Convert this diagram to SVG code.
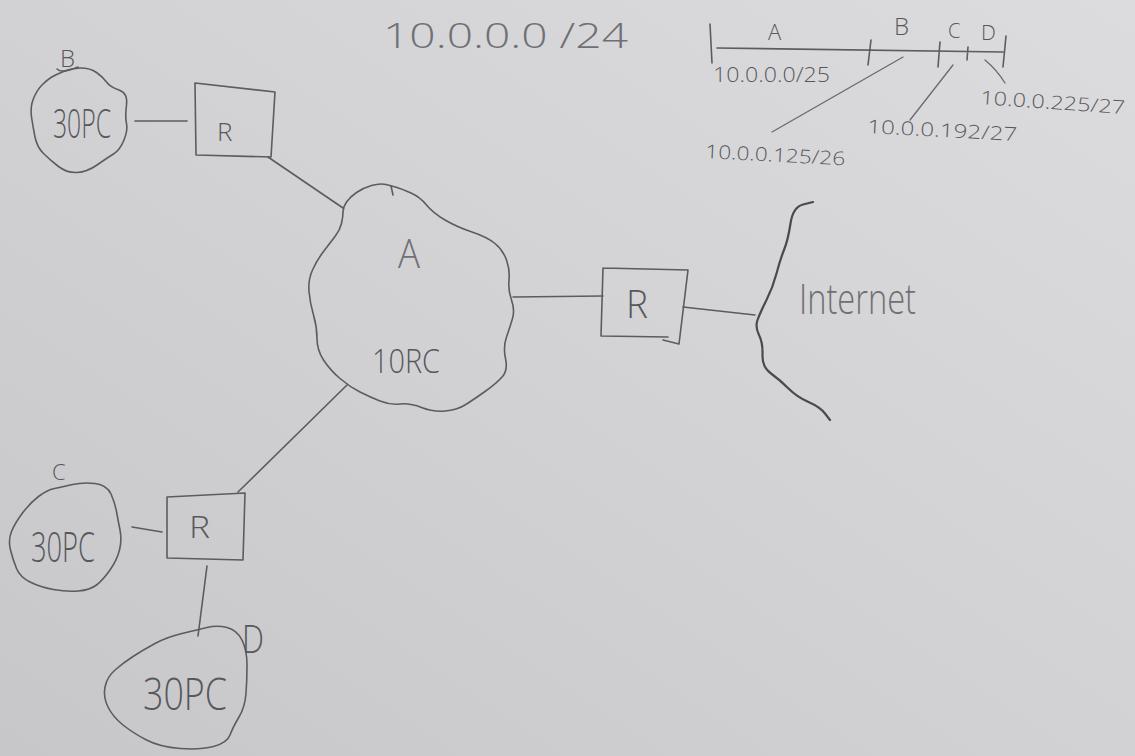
<svg xmlns="http://www.w3.org/2000/svg" width="1135" height="756" viewBox="0 0 1135 756">
  <defs>
    <linearGradient id="paper" x1="1" y1="0" x2="0" y2="1">
      <stop offset="0" stop-color="#dcdcdf"/>
      <stop offset="0.5" stop-color="#d2d2d5"/>
      <stop offset="1" stop-color="#c7c7ca"/>
    </linearGradient>
    <style>
      .pen { fill: none; stroke: #5c5c5f; stroke-width: 1.6; stroke-linecap: round; stroke-linejoin: round; }
      .bold { stroke: #4a4a4d; stroke-width: 2.2; }
      .lead { fill: none; stroke: #6a6a6d; stroke-width: 1.3; stroke-linecap: round; }
      .hand { font-family: "Open Sans", "DejaVu Sans", "Liberation Sans", sans-serif; font-weight: 300; fill: #58585b; }
      .faint { fill: #707074; }
    </style>
  </defs>

  <!-- sheet of paper -->
  <rect x="0" y="0" width="1135" height="756" fill="url(#paper)"/>

  <!-- address plan for 10.0.0.0/24 -->
  <g id="title">
    <text class="hand faint" x="383" y="48" font-size="34" textLength="245" lengthAdjust="spacingAndGlyphs">10.0.0.0 /24</text>
  </g>

  <g id="address-line">
    <path class="pen" d="M710,24 L712,63 M717,48 L1003,52 M871,40 L868,65 M940,42 L938,67 M968,47 L967,60 M1006,36 L1003,67"/>
    <text class="hand" x="768" y="40" font-size="22">A</text>
    <text class="hand" x="894" y="35" font-size="24">B</text>
    <text class="hand" x="948" y="38" font-size="20">C</text>
    <text class="hand" x="981" y="40" font-size="21">D</text>
    <text class="hand" x="713" y="82" font-size="20" textLength="117" lengthAdjust="spacingAndGlyphs">10.0.0.0/25</text>
    <!-- leaders to the subnet addresses -->
    <path class="lead" d="M903,57 L772,132"/>
    <path class="lead" d="M953,65 L910,120"/>
    <path class="lead" d="M985,60 Q997,70 1005,83"/>
    <text class="hand" x="705" y="158" font-size="19" textLength="140" lengthAdjust="spacingAndGlyphs" transform="rotate(3 705 158)">10.0.0.125/26</text>
    <text class="hand" x="867" y="133" font-size="19" textLength="150" lengthAdjust="spacingAndGlyphs" transform="rotate(3 867 133)">10.0.0.192/27</text>
    <text class="hand" x="980" y="104" font-size="19" textLength="145" lengthAdjust="spacingAndGlyphs" transform="rotate(4 980 104)">10.0.0.225/27</text>
  </g>

  <!-- links -->
  <g id="connectors">
    <path class="pen" d="M135,121 L187,121"/>
    <path class="pen" d="M268,157 L343,208"/>
    <path class="pen" d="M513,297 L603,296"/>
    <path class="pen" d="M683,307 L755,315"/>
    <path class="pen" d="M347,385 L238,492"/>
    <path class="pen" d="M132,527 L162,532"/>
    <path class="pen" d="M207,566 L198,636"/>
  </g>

  <!-- network B -->
  <g id="net-b">
    <path class="pen" d="M63.5,71.5 Q72,68 81,68 Q90,68 96.5,72.5 Q103,77 106.5,82 Q110,87 119,90 Q128,93 126.5,105 Q125,117 126.5,123.5 Q128,130 124,140 Q120,150 113.5,154 Q107,158 97,165 Q87,172 77,172.5 Q67,173 58.5,166.5 Q50,160 43.5,153.5 Q37,147 35,137 Q33,127 31.5,117 Q30,107 33.5,98.5 Q37,90 42,85 Q47,80 51,77.5 Q55,75 63.5,71.5 Z"/>
    <text class="hand" x="60" y="67" font-size="24">B</text>
    <path class="pen" d="M57,69 Q62,74 78,67"/>
    <text class="hand" x="53" y="138" font-size="40" textLength="58" lengthAdjust="spacingAndGlyphs">30PC</text>
  </g>

  <g id="router-b">
    <path class="pen" d="M195,83 L275,92 L271,157 L196,155 Z"/>
    <text class="hand" x="217" y="141" font-size="26">R</text>
  </g>

  <!-- network A -->
  <g id="net-a">
    <path class="pen" d="M346.5,202 Q350,197 356.5,192.5 Q363,188 371.5,185.5 Q380,183 386,184.5 Q392,186 397,187.5 Q402,189 411,193 Q420,197 426.5,205 Q433,213 445,220 Q457,227 472,232 Q487,237 495,243.5 Q503,250 506.5,260 Q510,270 509,280 Q508,290 511.5,300 Q515,310 512.5,318.5 Q510,327 506.5,337 Q503,347 505.5,358.5 Q508,370 502.5,376.5 Q497,383 485,391.5 Q473,400 465,405 Q457,410 445,411 Q433,412 421.5,407.5 Q410,403 400,404 Q390,405 380,401 Q370,397 360,392 Q350,387 340,378.5 Q330,370 323.5,360 Q317,350 317,338.5 Q317,327 313.5,315 Q310,303 309,291.5 Q308,280 312.5,270 Q317,260 323.5,251.5 Q330,243 335,236.5 Q340,230 341.5,223.5 Q343,217 343,212 Q343,207 346.5,202 Z"/>
    <path class="pen" d="M391,186 L393,195"/>
    <text class="hand faint" x="398" y="268" font-size="40" textLength="22" lengthAdjust="spacingAndGlyphs">A</text>
    <text class="hand" x="372" y="373" font-size="33" textLength="68" lengthAdjust="spacingAndGlyphs">10RC</text>
  </g>

  <g id="router-a">
    <path class="pen" d="M603,268 L688,270 L679,344 M603,268 L601,336 L668,337 M663,340 L679,344"/>
    <text class="hand" x="626" y="318" font-size="38" textLength="22" lengthAdjust="spacingAndGlyphs">R</text>
  </g>

  <!-- Internet -->
  <g id="internet">
    <path class="pen bold" d="M813,202 L803,204.5 Q793,207 790.5,223.5 Q788,240 784,250 Q780,260 776.5,273.5 Q773,287 766.5,300 Q760,313 757.5,320 Q755,327 759,335 Q763,343 762.5,355 Q762,367 771,373.5 Q780,380 788.5,388.5 Q797,397 808.5,402 Q820,407 825,413.5 L830,420"/>
    <text class="hand faint" x="799" y="314" font-size="42" textLength="117" lengthAdjust="spacingAndGlyphs">Internet</text>
  </g>

  <!-- network C -->
  <g id="net-c">
    <path class="pen" d="M72.5,484.5 Q83,482 95,483.5 Q107,485 111,494 Q115,503 116.5,511.5 Q118,520 120,530 Q122,540 119.5,550 Q117,560 110,570 Q103,580 96.5,585 Q90,590 78.5,591 Q67,592 53.5,589.5 Q40,587 30,582 Q20,577 16.5,568.5 Q13,560 10.5,550 Q8,540 11.5,531.5 Q15,523 22.5,513 Q30,503 38.5,496.5 Q47,490 54.5,488.5 Q62,487 72.5,484.5 Z"/>
    <text class="hand" x="52" y="480" font-size="22">C</text>
    <text class="hand" x="31" y="562" font-size="42" textLength="64" lengthAdjust="spacingAndGlyphs">30PC</text>
  </g>

  <g id="router-c">
    <path class="pen" d="M167,497 L245,493 L243,560 L167,558 Z"/>
    <text class="hand" x="189" y="538" font-size="32" textLength="21" lengthAdjust="spacingAndGlyphs">R</text>
  </g>

  <!-- network D -->
  <g id="net-d">
    <path class="pen" d="M207,627.5 Q217,625 227,627.5 Q237,630 242,640 Q247,650 247,665 Q247,680 246,693.5 Q245,707 239,717 Q233,727 230,735 Q227,743 213.5,746.5 Q200,750 180,748.5 Q160,747 146.5,740 Q133,733 123,725 Q113,717 108,707 Q103,697 105,687 Q107,677 115,670 Q123,663 133,656.5 Q143,650 155,643.5 Q167,637 182,633.5 Q197,630 207,627.5 Z"/>
    <text class="hand" x="242" y="653" font-size="38" textLength="22" lengthAdjust="spacingAndGlyphs">D</text>
    <text class="hand" x="143" y="710" font-size="44" textLength="84" lengthAdjust="spacingAndGlyphs">30PC</text>
  </g>
</svg>
